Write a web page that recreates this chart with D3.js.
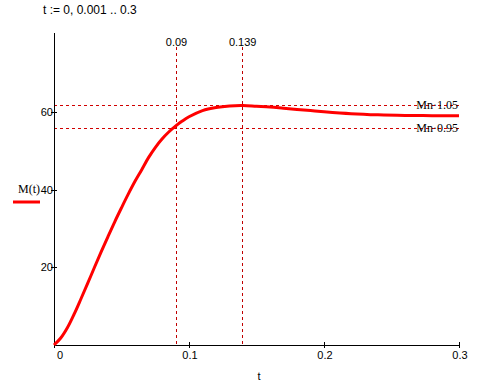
<!DOCTYPE html>
<html>
<head>
<meta charset="utf-8">
<script src="https://cdn.jsdelivr.net/npm/d3@7"></script>
<style>
body { margin: 0; background: #fff; }
svg text { font-family: "Liberation Sans", Arial, sans-serif; font-size: 11px; fill: #000; }
.serif { font-family: "Liberation Serif", "Times New Roman", serif; font-size: 12px; }
</style>
</head>
<body>
<div id="chart"></div>
<script>
// values
var t_vals = [0, 0.005, 0.01, 0.015, 0.02, 0.025, 0.03, 0.035, 0.04, 0.045, 0.05, 0.055, 0.06, 0.065, 0.07, 0.075, 0.08, 0.085, 0.09, 0.095, 0.10, 0.11, 0.12, 0.13, 0.14, 0.15, 0.16, 0.17, 0.18, 0.19, 0.20, 0.22, 0.24, 0.26, 0.28, 0.30];
var m_vals = [0, 1.8, 4.5, 8.0, 11.9, 15.9, 20.0, 24.0, 27.9, 31.7, 35.3, 38.8, 42.1, 45.1, 48.2, 50.8, 53.0, 54.8, 56.3, 57.6, 58.7, 60.3, 61.1, 61.5, 61.6, 61.4, 61.2, 60.9, 60.6, 60.3, 60.0, 59.5, 59.2, 59.05, 59.0, 58.95];
var x_ticks = [0, 0.1, 0.2, 0.3];
var y_ticks = [20, 40, 60];
var t_marks = [0.09, 0.139];
var Mn = 58.8;
var band = [1.05, 0.95];

var W = 477, H = 383;
var svg = d3.select("#chart").append("svg").attr("width", W).attr("height", H);

var x = d3.scaleLinear().domain([0, 0.3]).range([54, 459]);
var y = d3.scaleLinear().domain([0, 80]).range([345, 34]);

svg.append("text").attr("x", 43).attr("y", 14).style("font-size", "12px")
    .text("t := 0, 0.001 .. 0.3");

// markers
svg.selectAll(".vmark").data(t_marks).enter().append("line")
    .attr("x1", function (d) { return Math.round(x(d)) + 0.5; })
    .attr("x2", function (d) { return Math.round(x(d)) + 0.5; })
    .attr("y1", 47).attr("y2", y(0))
    .attr("stroke", "#c00000").attr("stroke-dasharray", "3,3");
svg.selectAll(".vlab").data(t_marks).enter().append("text")
    .attr("x", function (d) { return x(d) + 1; }).attr("y", 46)
    .attr("text-anchor", "middle")
    .text(function (d) { return d; });

svg.selectAll(".hmark").data(band).enter().append("line")
    .attr("x1", x(0)).attr("x2", x(0.3))
    .attr("y1", function (d) { return Math.round(y(Mn * d)) + 0.5; })
    .attr("y2", function (d) { return Math.round(y(Mn * d)) + 0.5; })
    .attr("stroke", "#d00000").attr("stroke-dasharray", "3,3");
svg.selectAll(".hlab").data(band).enter().append("text")
    .attr("class", "serif")
    .attr("x", 458).attr("y", function (d) { return y(Mn * d) + 4; })
    .attr("text-anchor", "end")
    .text(function (d) { return "Mn\u00b7" + d.toFixed(2); });

// axes
svg.append("line").attr("x1", 54.5).attr("x2", 54.5).attr("y1", 33).attr("y2", 345.5).attr("stroke", "#000");
svg.append("line").attr("x1", 54).attr("x2", 460).attr("y1", 345.5).attr("y2", 345.5).attr("stroke", "#000");

svg.selectAll(".xt").data(x_ticks).enter().append("line")
    .attr("x1", function (d) { return Math.round(x(d)) + 0.5; })
    .attr("x2", function (d) { return Math.round(x(d)) + 0.5; })
    .attr("y1", 342).attr("y2", 348).attr("stroke", "#000");
svg.selectAll(".xl").data(x_ticks).enter().append("text")
    .attr("x", function (d) { return x(d) + (d === 0 ? 6 : 1); }).attr("y", 359)
    .attr("text-anchor", "middle")
    .text(function (d) { return d; });

svg.selectAll(".yt").data(y_ticks).enter().append("line")
    .attr("x1", 51).attr("x2", 57)
    .attr("y1", function (d) { return Math.round(y(d)) + 0.5; })
    .attr("y2", function (d) { return Math.round(y(d)) + 0.5; })
    .attr("stroke", "#000");
svg.selectAll(".yl").data(y_ticks).enter().append("text")
    .attr("x", 53).attr("y", function (d) { return y(d) + 4; })
    .attr("text-anchor", "end")
    .text(function (d) { return d; });

svg.append("text").attr("x", 259).attr("y", 380).attr("text-anchor", "middle").text("t");
svg.append("text").attr("class", "serif").attr("x", 40).attr("y", 193).attr("text-anchor", "end").text("M(t)");
svg.append("line").attr("x1", 13).attr("x2", 40).attr("y1", 202).attr("y2", 202)
    .attr("stroke", "#ff0000").attr("stroke-width", 3);

// curve
var pts = t_vals.map(function (d, i) { return [d, m_vals[i]]; });
var line = d3.line()
    .x(function (d) { return x(d[0]); })
    .y(function (d) { return y(d[1]); })
    .curve(d3.curveCatmullRom);
svg.append("path").datum(pts).attr("d", line)
    .attr("fill", "none").attr("stroke", "#ff0000").attr("stroke-width", 3);
</script>
</body>
</html>
